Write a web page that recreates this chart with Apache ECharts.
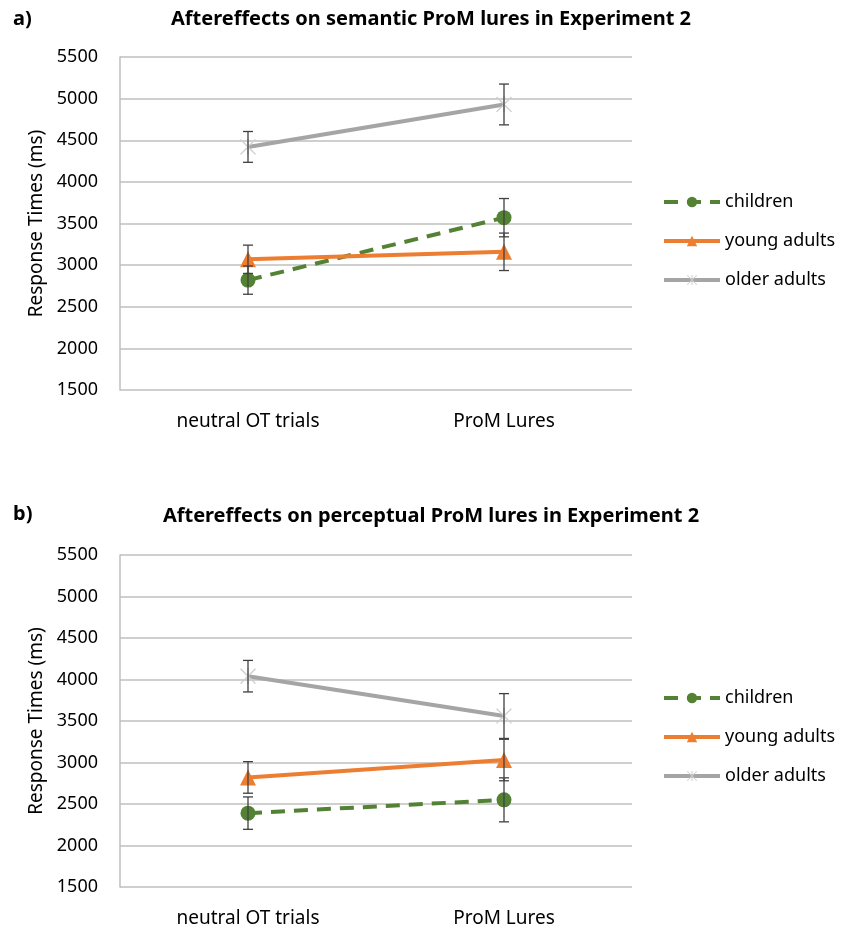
<!DOCTYPE html>
<html>
<head>
<meta charset="utf-8">
<script src="https://cdn.jsdelivr.net/npm/echarts@6/dist/echarts.min.js"></script>
<style>
  html, body { margin: 0; padding: 0; background: #fff; }
  #chart { width: 841px; height: 928px; }
</style>
</head>
<body>
<div id="chart"></div>
<script>
// categories and values
const categories = ['neutral OT trials', 'ProM Lures']
const groups = ['children', 'young adults', 'older adults']
const yTicks = [1500, 2000, 2500, 3000, 3500, 4000, 4500, 5000, 5500]

// a) semantic lures
const semChildren = [2820, 3570]
const semChildrenErr = [170, 230]
const semYoung = [3070, 3160]
const semYoungErr = [170, 225]
const semOlder = [4420, 4930]
const semOlderErr = [185, 245]

// b) perceptual lures
const perChildren = [2390, 2550]
const perChildrenErr = [195, 265]
const perYoung = [2820, 3030]
const perYoungErr = [190, 250]
const perOlder = [4040, 3560]
const perOlderErr = [190, 270]

const FONT = 'Noto Sans'
const colors = { children: '#548235', young: '#ED7D31', older: '#A5A5A5' }
const asterisk = 'path://M9.2 0L10.8 0L10.8 20L9.2 20Z M1.2 1.2L2.4 0.2L18.8 18.8L17.6 19.8Z M18.8 1.2L17.6 0.2L1.2 18.8L2.4 19.8Z'

const chart = echarts.init(document.getElementById('chart'))

const makeAxes = (idx) => {
  const xAxis = {
    type: 'category',
    gridIndex: idx,
    data: categories,
    boundaryGap: true,
    axisLine: { show: false },
    axisTick: { show: false },
    axisLabel: { color: '#000', fontSize: 19, fontFamily: FONT, margin: 22 }
  }
  const yAxis = {
    type: 'value',
    gridIndex: idx,
    min: yTicks[0],
    max: yTicks[yTicks.length - 1],
    interval: 500,
    name: 'Response Times (ms)',
    nameLocation: 'middle',
    nameGap: 72,
    nameTextStyle: { color: '#000', fontSize: 19, fontFamily: FONT },
    axisLine: { show: true, lineStyle: { color: '#BFBFBF', width: 1.5 } },
    axisTick: { show: false },
    axisLabel: { color: '#000', fontSize: 18, fontFamily: FONT, margin: 22, formatter: (v) => String(v) },
    splitLine: { lineStyle: { color: '#BFBFBF', width: 1.5 } }
  }
  return { xAxis, yAxis }
}

const lineSeries = (idx, name, values, color, symbol, symbolSize, lineType, symbolColor) => ({
  name: name,
  type: 'line',
  xAxisIndex: idx,
  yAxisIndex: idx,
  data: values,
  symbol: symbol,
  symbolSize: symbolSize,
  lineStyle: { color: color, width: 4, type: lineType },
  itemStyle: { color: symbolColor || color },
  z: 3
})

const errSeries = (idx, values, errs) => ({
  type: 'custom',
  xAxisIndex: idx,
  yAxisIndex: idx,
  z: 5,
  silent: true,
  data: values.map((v, i) => [i, v - errs[i], v + errs[i]]),
  renderItem: (params, api) => {
    const lo = api.coord([api.value(0), api.value(1)])
    const hi = api.coord([api.value(0), api.value(2)])
    const w = 5
    const style = { stroke: '#404040', lineWidth: 1.3 }
    return {
      type: 'group',
      children: [
        { type: 'line', shape: { x1: lo[0], y1: lo[1], x2: hi[0], y2: hi[1] }, style },
        { type: 'line', shape: { x1: lo[0] - w, y1: lo[1], x2: lo[0] + w, y2: lo[1] }, style },
        { type: 'line', shape: { x1: hi[0] - w, y1: hi[1], x2: hi[0] + w, y2: hi[1] }, style }
      ]
    }
  }
})

const buildSeries = (idx, ch, chErr, yo, yoErr, ol, olErr) => [
  lineSeries(idx, groups[0], ch, colors.children, 'circle', 15, [14, 9]),
  lineSeries(idx, groups[1], yo, colors.young, 'triangle', 16, 'solid'),
  lineSeries(idx, groups[2], ol, colors.older, asterisk, 16, 'solid', '#CFCFCF'),
  errSeries(idx, ch, chErr),
  errSeries(idx, yo, yoErr),
  errSeries(idx, ol, olErr)
]

const a = makeAxes(0)
const b = makeAxes(1)

const legendBase = {
  orient: 'vertical',
  left: 657,
  itemWidth: 56,
  itemHeight: 13,
  itemGap: 21,
  data: groups,
  lineStyle: { width: 4 },
  textStyle: { color: '#000', fontSize: 18, fontFamily: FONT }
}

const titleStyle = { color: '#000', fontSize: 20, fontWeight: 'bold', fontFamily: FONT }

const option = {
  backgroundColor: '#fff',
  animation: false,
  title: [
    { text: 'a)', left: 8, top: 4, textStyle: titleStyle },
    { text: 'Aftereffects on semantic ProM lures in Experiment 2', left: 426, textAlign: 'center', top: 4, textStyle: titleStyle },
    { text: 'b)', left: 8, top: 499, textStyle: titleStyle },
    { text: 'Aftereffects on perceptual ProM lures in Experiment 2', left: 426, textAlign: 'center', top: 501, textStyle: titleStyle }
  ],
  legend: [
    Object.assign({}, legendBase, { top: 188, seriesIndex: [0, 1, 2] }),
    Object.assign({}, legendBase, { top: 684, seriesIndex: [6, 7, 8] })
  ],
  grid: [
    { left: 120, width: 512, top: 57, height: 333 },
    { left: 120, width: 512, top: 555, height: 333 }
  ],
  xAxis: [a.xAxis, b.xAxis],
  yAxis: [a.yAxis, b.yAxis],
  series: [
    ...buildSeries(0, semChildren, semChildrenErr, semYoung, semYoungErr, semOlder, semOlderErr),
    ...buildSeries(1, perChildren, perChildrenErr, perYoung, perYoungErr, perOlder, perOlderErr)
  ]
}

chart.setOption(option)
window.addEventListener('resize', () => chart.resize())
</script>
</body>
</html>
